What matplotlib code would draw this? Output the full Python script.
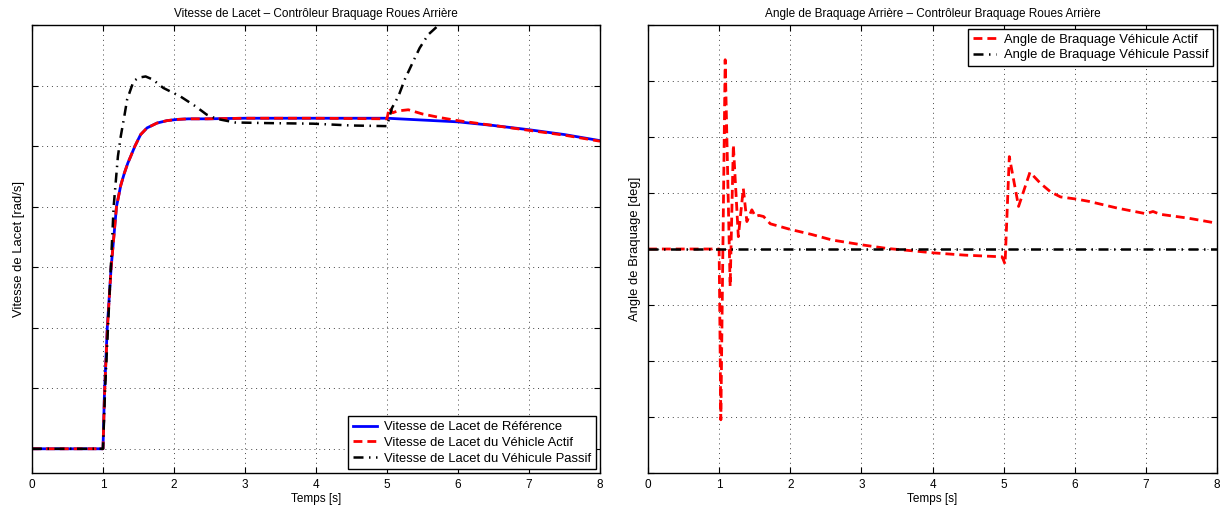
import matplotlib
matplotlib.use("Agg")
import matplotlib.pyplot as plt

plt.rcParams['font.family'] = ['Liberation Sans', 'DejaVu Sans']

# ---------------- data (y in tick units, labels hidden as in the reference) ----------------
t_ref = [0, 1.0, 1.02, 1.06, 1.115, 1.19, 1.25, 1.3, 1.35, 1.39, 1.45, 1.53, 1.62, 1.76, 1.9,
         2.04, 2.2, 2.47, 3.0, 4.0, 5.0, 5.5, 6.0, 6.5, 7.0, 7.5, 8.0]
yaw_ref = [0, 0, 0.9, 2.0, 3.0, 4.0, 4.35, 4.55, 4.72, 4.83, 5.0, 5.19, 5.3, 5.38, 5.42,
           5.44, 5.45, 5.45, 5.46, 5.46, 5.46, 5.43, 5.40, 5.34, 5.27, 5.19, 5.09]

t_act = [0, 1.0, 1.02, 1.06, 1.115, 1.19, 1.25, 1.3, 1.35, 1.39, 1.45, 1.53, 1.62, 1.76, 1.9,
         2.04, 2.2, 2.47, 3.0, 4.0, 5.0, 5.03, 5.08, 5.15, 5.3, 5.5, 5.75, 6.0, 6.5, 7.0, 7.5, 8.0]
yaw_act = [0, 0, 0.85, 1.95, 3.0, 4.0, 4.35, 4.55, 4.72, 4.83, 5.0, 5.19, 5.3, 5.38, 5.42,
           5.44, 5.45, 5.45, 5.46, 5.46, 5.45, 5.63, 5.55, 5.58, 5.6, 5.53, 5.47, 5.42, 5.34,
           5.26, 5.18, 5.08]

t_pas = [0, 1.0, 1.03, 1.07, 1.11, 1.15, 1.21, 1.25, 1.3, 1.34, 1.43, 1.5, 1.6, 1.7, 1.85,
         2.09, 2.3, 2.46, 2.6, 2.86, 3.3, 3.96, 4.5, 4.98, 5.0, 5.07, 5.16, 5.25, 5.37, 5.46,
         5.58, 5.72, 5.9]
yaw_pas = [0, 0, 1.0, 2.0, 3.0, 4.0, 4.83, 5.16, 5.49, 5.77, 6.07, 6.13, 6.15, 6.1, 5.96,
           5.82, 5.66, 5.52, 5.45, 5.39, 5.38, 5.37, 5.34, 5.33, 5.33, 5.63, 5.82, 6.1, 6.4,
           6.62, 6.84, 6.99, 7.25]

t_steer_act = [0, 1.0, 1.024, 1.085, 1.155, 1.2, 1.27, 1.34, 1.39, 1.46, 1.51, 1.56, 1.625,
               1.72, 2.0, 2.3, 2.59, 3.03, 3.36, 3.7, 4.02, 4.46, 4.98, 5.02, 5.08, 5.21, 5.37,
               5.52, 5.66, 5.8, 6.03, 6.2, 6.6, 7.0, 7.1, 7.2, 7.6, 8.0]
steer_act = [0, 0, -3.05, 3.38, -0.67, 1.86, 0.22, 1.08, 0.49, 0.70, 0.58, 0.6, 0.58,
             0.45, 0.35, 0.26, 0.16, 0.07, 0.01, -0.03, -0.07, -0.11, -0.14, -0.27, 1.65, 0.76,
             1.37, 1.17, 1.02, 0.93, 0.89, 0.85, 0.73, 0.63, 0.67, 0.62, 0.55, 0.46]

t_steer_pas = [0, 8.0]
steer_pas = [0, 0]

x_ticks = [0, 1, 2, 3, 4, 5, 6, 7, 8]
left_yticks = [0, 1, 2, 3, 4, 5, 6, 7]
right_yticks = [-4, -3, -2, -1, 0, 1, 2, 3, 4]

# ---------------- figure ----------------
fig = plt.figure(figsize=(12.24, 5.13), dpi=100)
ax1 = fig.add_axes([32/1224, 1-473/513, 568/1224, 448/513])
ax2 = fig.add_axes([648/1224, 1-473/513, 569/1224, 448/513])

fs = 8.5
lfs = 9.4
dashdot = (4, 2.2, 0.6, 2.2)
leg_kw = dict(fontsize=lfs, fancybox=False, edgecolor='black', framealpha=1,
              borderpad=0.35, labelspacing=0.27, handlelength=1.8, handletextpad=0.6,
              borderaxespad=0.3)

ax1.plot(t_ref, yaw_ref, color='#0000ff', lw=2.0, label='Vitesse de Lacet de Référence')
ax1.plot(t_act, yaw_act, color='#ff0000', lw=2.0, ls='--', dashes=(3.2, 1.8),
         label='Vitesse de Lacet du Véhicle Actif')
ax1.plot(t_pas, yaw_pas, color='black', lw=1.8, ls='-.', dashes=dashdot,
         label='Vitesse de Lacet du Véhicule Passif')
ax1.set_ylim(-0.4, 7)
ax1.set_yticks(left_yticks)
ax1.set_title('Vitesse de Lacet – Contrôleur Braquage Roues Arrière', fontsize=fs, pad=6)
ax1.set_ylabel('Vitesse de Lacet [rad/s]', fontsize=lfs, labelpad=1)
ax1.legend(loc='lower right', **leg_kw)

ax2.plot(t_steer_act, steer_act, color='#ff0000', lw=2.0, ls='--', dashes=(3.2, 1.8),
         label='Angle de Braquage Véhicule Actif')
ax2.plot(t_steer_pas, steer_pas, color='black', lw=1.8, ls='-.', dashes=dashdot,
         label='Angle de Braquage Véhicule Passif')
ax2.set_ylim(-4, 4)
ax2.set_yticks(right_yticks)
ax2.set_title('Angle de Braquage Arrière – Contrôleur Braquage Roues Arrière', fontsize=fs, pad=6)
ax2.set_ylabel('Angle de Braquage [deg]', fontsize=lfs, labelpad=1)
ax2.legend(loc='upper right', **leg_kw)

for ax in (ax1, ax2):
    ax.set_xlim(0, 8)
    ax.set_xticks(x_ticks)
    ax.set_yticklabels([])
    ax.set_xlabel('Temps [s]', fontsize=fs, labelpad=2)
    ax.tick_params(axis='both', direction='in', top=True, right=True, length=4,
                   width=0.8, labelsize=fs, pad=4)
    ax.grid(True, ls=(0, (1, 4)), color='#444444', lw=0.7)
    for sp in ax.spines.values():
        sp.set_linewidth(1.0)

fig.savefig('out.png', dpi=100)
